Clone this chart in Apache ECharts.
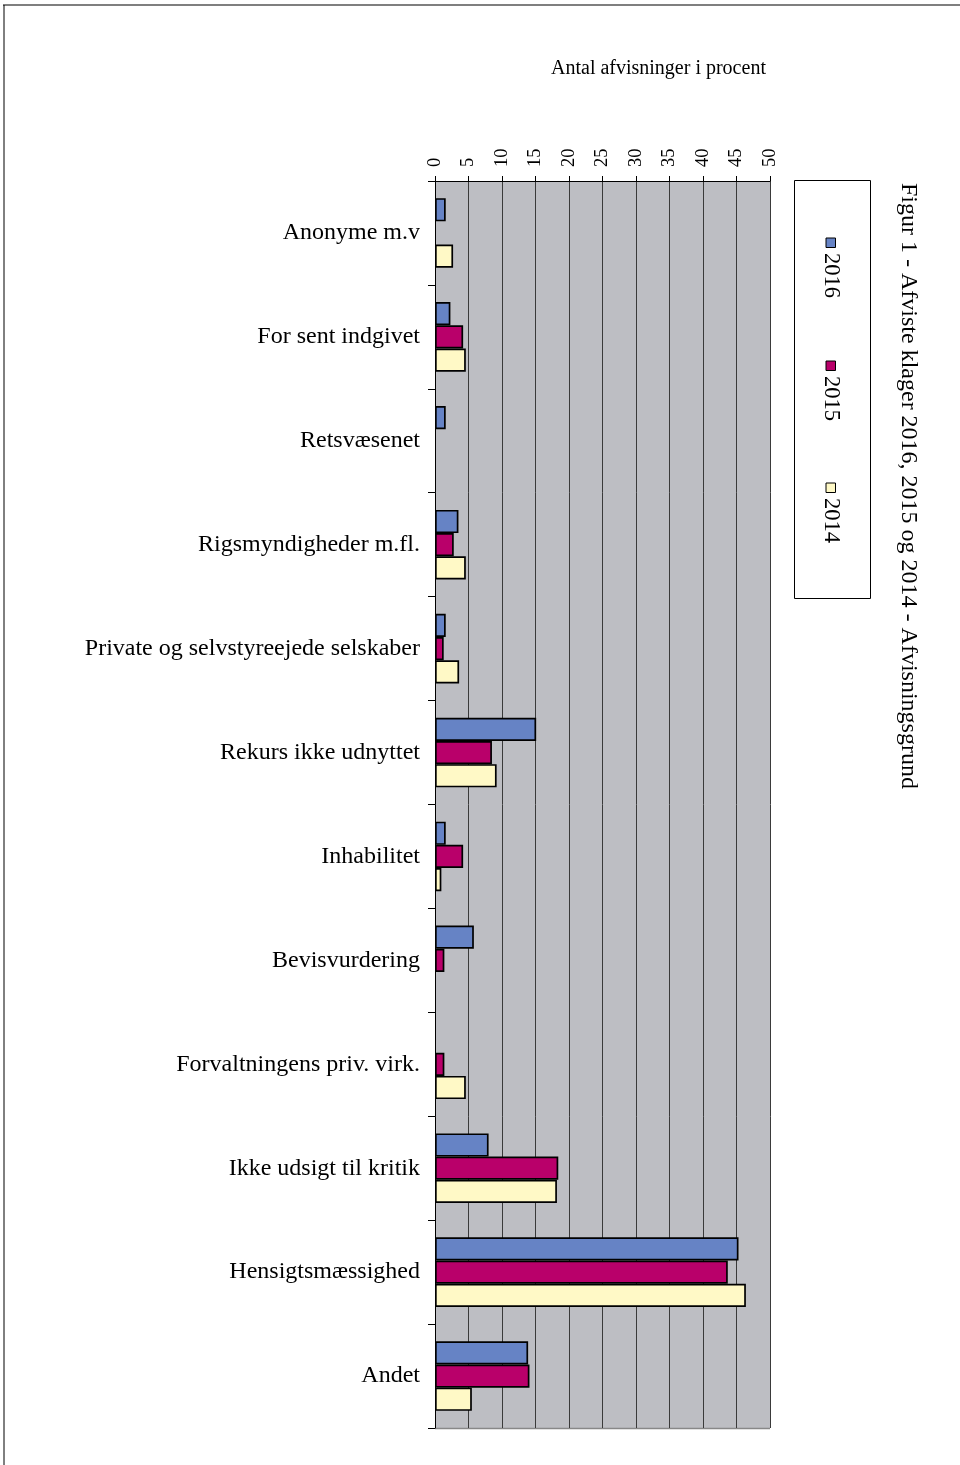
<!DOCTYPE html>
<html>
<head>
<meta charset="utf-8">
<script src="https://cdn.jsdelivr.net/npm/echarts@6/dist/echarts.min.js"></script>
<style>
html,body{margin:0;padding:0;background:#fff;}
#chart{width:960px;height:1465px;}
</style>
</head>
<body>
<div id="chart"></div>
<script>
const categories = [
  'Anonyme m.v',
  'For sent indgivet',
  'Retsvæsenet',
  'Rigsmyndigheder m.fl.',
  'Private og selvstyreejede selskaber',
  'Rekurs ikke udnyttet',
  'Inhabilitet',
  'Bevisvurdering',
  'Forvaltningens priv. virk.',
  'Ikke udsigt til kritik',
  'Hensigtsmæssighed',
  'Andet'
];
const values2016 = [1.6, 2.3, 1.6, 3.5, 1.6, 15.1, 1.6, 5.8, 0, 8.0, 45.3, 13.9];
const values2015 = [0, 4.2, 0, 2.8, 1.3, 8.5, 4.2, 1.4, 1.4, 18.4, 43.7, 14.1];
const values2014 = [2.7, 4.6, 0, 4.6, 3.6, 9.2, 0.95, 0, 4.6, 18.2, 46.4, 5.5];
const seriesNames = ['2016', '2015', '2014'];
const xTicks = [0, 50, 5]; // min, max, interval
const axisTitle = 'Antal afvisninger i procent';
const chartTitle = 'Figur 1 - Afviste klager 2016, 2015 og 2014 - Afvisningsgrund';

const colors = ['#6683C5', '#B9006A', '#FFF9C6'];
const serif = '"Liberation Serif", "DejaVu Serif", serif';

const chart = echarts.init(document.getElementById('chart'), null, {renderer: 'canvas'});

const seriesData = [values2016, values2015, values2014];
const series = seriesNames.map((n, i) => ({
  name: n,
  type: 'bar',
  data: seriesData[i].map(v => (v === 0 ? null : v)),
  barGap: '0%',
  barCategoryGap: '33%',
  itemStyle: {color: colors[i], borderColor: '#000', borderWidth: 1.7},
  emphasis: {disabled: true}
}));

const legendYs = [238, 361, 483];
const legendGraphics = [];
seriesNames.forEach((n, i) => {
  legendGraphics.push({
    type: 'rect',
    shape: {x: 826, y: legendYs[i], width: 9.5, height: 9.5},
    style: {fill: colors[i], stroke: '#000', lineWidth: 1}
  });
  legendGraphics.push({
    type: 'text',
    x: 831, y: legendYs[i] + 15,
    rotation: -Math.PI / 2,
    style: {text: n, font: '22.5px ' + serif, fill: '#000', textAlign: 'left', textVerticalAlign: 'middle'}
  });
});

chart.setOption({
  animation: false,
  backgroundColor: '#fff',
  grid: {
    left: 435, right: 190, top: 181, bottom: 37,
    show: true, backgroundColor: '#BDBEC3', borderWidth: 0
  },
  xAxis: {
    type: 'value',
    position: 'top',
    min: xTicks[0], max: xTicks[1], interval: xTicks[2],
    axisLine: {show: true, lineStyle: {color: '#000', width: 1}},
    axisTick: {show: true, length: 5, lineStyle: {color: '#000'}},
    axisLabel: {rotate: -90, margin: 14, color: '#000', fontSize: 18.5, fontFamily: serif},
    splitLine: {show: true, lineStyle: {color: '#3a3a3a', width: 1}}
  },
  yAxis: {
    type: 'category',
    data: categories,
    inverse: true,
    axisLine: {show: true, onZero: false, lineStyle: {color: '#000', width: 1}},
    axisTick: {show: true, length: 7, lineStyle: {color: '#000'}},
    axisLabel: {margin: 15, color: '#000', fontSize: 24, fontFamily: serif, padding: [6, 0, 0, 0]},
    splitLine: {show: false}
  },
  series: series,
  graphic: [
    {type: 'line', shape: {x1: 3, y1: 5, x2: 960, y2: 5}, style: {stroke: '#000', lineWidth: 1.2}},
    {type: 'line', shape: {x1: 4, y1: 5, x2: 4, y2: 1465}, style: {stroke: '#000', lineWidth: 1}},
    {type: 'line', shape: {x1: 435, y1: 1428.5, x2: 770, y2: 1428.5}, style: {stroke: '#888', lineWidth: 1.5}},
    {type: 'text', x: 551, y: 69,
      style: {text: axisTitle, font: '20px ' + serif, fill: '#000', textAlign: 'left', textVerticalAlign: 'middle'}},
    {type: 'rect', shape: {x: 794.5, y: 180.5, width: 76, height: 418}, style: {fill: '#fff', stroke: '#000', lineWidth: 1}},
    ...legendGraphics,
    {type: 'text', x: 908, y: 183, rotation: -Math.PI / 2,
      style: {text: chartTitle, font: '24px ' + serif, fill: '#000', textAlign: 'left', textVerticalAlign: 'middle'}}
  ]
});
</script>
</body>
</html>
